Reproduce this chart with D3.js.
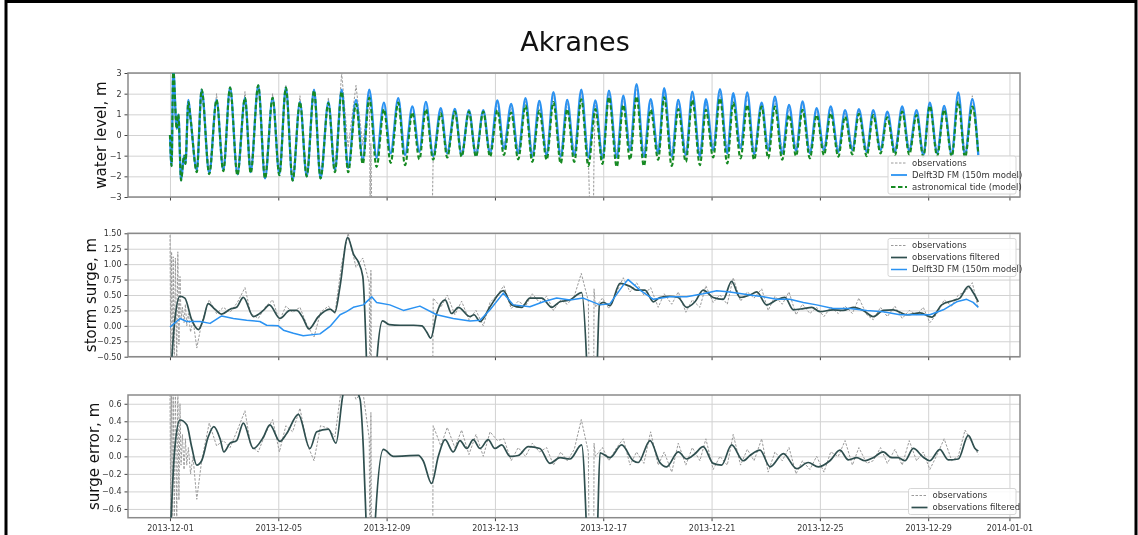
<!DOCTYPE html>
<html>
<head>
<meta charset="utf-8">
<script src="https://cdn.jsdelivr.net/npm/d3@7"></script>
<style>
  body { margin: 0; background: #fff; }
  svg { display: block; font-family: "DejaVu Sans", sans-serif; filter: blur(0.35px); }
</style>
</head>
<body>
<svg id="chart" width="1138" height="535"></svg>
<script>
// ---- data (days since 2013-12-01 00:00 UTC) ----

// tidal high/low waters, panel 1
const extremeDays = [
  0.00, 0.06, 0.12, 0.25, 0.31, 0.41, 0.52, 0.57, 0.68, 0.76,
  0.99, 1.17, 1.45, 1.72, 1.97, 2.22, 2.49, 2.77, 2.98, 3.26,
  3.51, 3.79, 4.04, 4.28, 4.53, 4.80, 5.05, 5.32, 5.56, 5.85,
  6.09, 6.34, 6.58, 6.87, 7.12, 7.36, 7.63, 7.90, 8.15, 8.43,
  8.68, 8.95, 9.21, 9.45, 9.72, 10.00, 10.24, 10.52, 10.77, 11.04,
  11.30, 11.57, 11.82, 12.09, 12.33, 12.60, 12.86, 13.13, 13.38, 13.64,
  13.91, 14.16, 14.43, 14.67, 14.93, 15.19, 15.45, 15.71, 15.97, 16.21,
  16.50, 16.74, 16.99, 17.23, 17.50, 17.75, 18.03, 18.25, 18.53, 18.77,
  19.05, 19.29, 19.57, 19.79, 20.06, 20.31, 20.58, 20.80, 21.07, 21.32,
  21.57, 21.85, 22.09, 22.34, 22.61, 22.86, 23.12, 23.36, 23.63, 23.88,
  24.15, 24.40, 24.68, 24.93, 25.20, 25.44, 25.73, 25.97, 26.24, 26.49,
  26.77, 27.04, 27.30, 27.57, 27.82, 28.06, 28.33, 28.59, 28.87, 29.11,
  29.36, 29.63, 29.85
];
const modelLevel = [
  0, -1.5, 3.2, 0.3, 1.0, -2.2, -1.0, -1.4, 1.7, 0.8,
  -1.7, 2.2, -1.85, 1.7, -1.7, 2.3, -1.9, 1.8, -1.8, 2.4,
  -2.1, 1.8, -1.9, 2.3, -2.2, 1.6, -2.0, 2.2, -2.1, 1.6,
  -1.7, 2.2, -1.6, 1.7, -1.2, 2.2, -1.1, 1.57, -0.89, 1.78,
  -0.97, 1.38, -0.81, 1.6, -1.02, 1.3, -0.89, 1.26, -0.97, 1.2,
  -0.97, 1.2, -0.89, 1.67, -0.65, 1.5, -0.89, 1.78, -1.05, 1.65,
  -0.97, 2.07, -1.05, 1.7, -0.97, 2.19, -1.08, 1.67, -1.13, 2.15,
  -1.08, 1.9, -0.73, 2.46, -1.05, 1.73, -0.89, 2.27, -1.05, 1.7,
  -0.97, 2.1, -1.05, 1.73, -0.73, 2.22, -0.89, 2.03, -0.65, 2.06,
  -0.92, 1.57, -0.73, 1.86, -0.89, 1.46, -0.76, 1.62, -0.89, 1.3,
  -0.73, 1.38, -0.81, 1.2, -0.73, 1.25, -0.81, 1.2, -0.73, 1.13,
  -0.81, 1.38, -0.76, 1.2, -0.97, 1.57, -0.89, 1.41, -0.97, 2.06,
  -0.97, 1.73, -0.97
];
const tideLevel = [
  0, -1.5, 3.2, 0.3, 1.0, -2.2, -1.0, -1.4, 1.6, 0.8,
  -1.8, 2.2, -1.9, 1.7, -1.75, 2.3, -1.95, 1.8, -1.85, 2.4,
  -2.1, 1.8, -1.95, 2.3, -2.2, 1.6, -2.0, 2.15, -2.1, 1.55,
  -1.8, 2.1, -1.8, 1.5, -1.4, 1.8, -1.55, 1.25, -1.35, 1.57,
  -1.46, 1.09, -1.18, 1.25, -1.2, 1.05, -1.09, 1.13, -1.05, 1.13,
  -1.05, 1.13, -1.05, 1.2, -0.97, 1.09, -1.18, 1.43, -1.3, 1.18,
  -1.2, 1.59, -1.38, 1.25, -1.3, 1.73, -1.5, 1.25, -1.4, 1.83,
  -1.54, 1.46, -1.2, 1.86, -1.5, 1.22, -1.2, 1.83, -1.5, 1.25,
  -1.3, 1.7, -1.46, 1.22, -1.09, 1.78, -1.38, 1.57, -1.13, 1.46,
  -1.2, 1.38, -1.13, 1.38, -1.2, 0.97, -1.02, 1.22, -1.13, 0.97,
  -0.97, 1.05, -1.05, 0.89, -0.94, 1.02, -1.02, 0.97, -0.89, 0.86,
  -0.97, 1.13, -0.94, 0.97, -1.05, 1.41, -1.02, 1.22, -1.05, 1.62,
  -1.09, 1.38, -0.9
];

// observations (tide gauge), shared time axis for all three panels; null = no data
const obsDays = [
  0.00, 0.03, 0.06, 0.09, 0.12, 0.16, 0.20, 0.25, 0.29, 0.33, 0.37, 0.41, 0.46, 0.52, 0.57, 0.62, 0.68, 0.76, 0.85,
  0.99, 1.17, 1.45, 1.72, 1.97, 2.22, 2.49, 2.77, 2.98, 3.26, 3.51, 3.79, 4.04, 4.28, 4.53, 4.80, 5.05, 5.32, 5.56, 5.85, 6.09, 6.34, 6.58, 6.87, 7.12, 7.36,
  7.39, 7.42, 7.45, 7.47, 9.69,
  9.72, 10.00, 10.24, 10.52, 10.77, 11.04, 11.30, 11.57, 11.82, 12.09, 12.33, 12.60, 12.86, 13.13, 13.38, 13.64, 13.91, 14.16, 14.43, 14.67, 14.93, 15.19, 15.45,
  15.50, 15.52, 15.64, 15.66,
  15.71, 15.97, 16.21, 16.50, 16.74, 16.99, 17.23, 17.50, 17.75, 18.03, 18.25, 18.53, 18.77, 19.05, 19.29, 19.57, 19.79, 20.06, 20.31, 20.58,
  20.80, 21.07, 21.32, 21.57, 21.85, 22.09, 22.34, 22.61, 22.86, 23.12, 23.36, 23.63, 23.88, 24.15, 24.40, 24.68, 24.93, 25.20, 25.44, 25.73,
  25.97, 26.24, 26.49, 26.77, 27.04, 27.30, 27.57, 27.82, 28.06, 28.33, 28.59, 28.87, 29.11, 29.36, 29.63, 29.85
];
const obsLevel = [
  0.0, -0.8, -1.5, 1.0, 3.2, 1.5, 0.6, 0.3, 1.0, 0.0, -1.5, -2.2, -1.6, -1.0, -1.4, 0.3, 1.7, 0.8, -0.6,
  -1.7, 2.2, -1.85, 2.0, -1.7, 2.35, -1.9, 2.1, -1.8, 2.45, -2.1, 2.0, -1.9, 2.4, -2.2, 1.9, -2.0, 2.2, -2.1, 1.8, -1.7, 3.0, -0.6, 2.4, -0.5, 2.2,
  -3.5, -0.4, -3.5, null, -3.5,
  -1.02, 1.3, -0.89, 1.26, -0.97, 1.2, -0.97, 1.2, -0.89, 1.67, -0.65, 1.5, -0.89, 1.78, -1.05, 1.65, -0.97, 2.07, -1.05, 1.7, -0.97, 2.19, -1.08,
  -3.5, null, -3.5, -0.9,
  1.67, -1.13, 2.15, -1.08, 1.9, -0.73, 2.46, -1.05, 1.73, -0.89, 2.27, -1.05, 1.7, -0.97, 2.1, -1.05, 1.73, -0.73, 2.22, -0.89,
  2.03, -0.65, 2.06, -0.92, 1.57, -0.73, 1.86, -0.89, 1.46, -0.76, 1.62, -0.89, 1.3, -0.73, 1.38, -0.81, 1.2, -0.73, 1.25, -0.81,
  1.2, -0.73, 1.13, -0.81, 1.38, -0.76, 1.2, -0.97, 1.57, -0.89, 1.41, -0.97, 2.06, -0.97, 1.9, -0.97
];
const obsSurge = [
  1.6, -0.8, 1.2, -0.8, 1.12, -0.7, 1.1, -0.6, 1.2, -0.3, 0.8, 0.1, 0.3, 0.05, 0.35, 0.0, 0.2, -0.1, 0.1,
  -0.36, 0.05, 0.42, 0.2, 0.3, 0.22, 0.38, 0.62, 0.2, 0.12, 0.3, 0.42, 0.08, 0.32, 0.22, 0.3, 0.02, -0.18, 0.22, 0.32, 0.2, 1.0, 1.5, 0.95, 1.1, 0.7,
  -2.0, 0.9, -2.0, null, -2.0,
  0.45, 0.3, 0.5, 0.18, 0.4, 0.1, 0.25, 0.0, 0.38, 0.5, 0.65, 0.28, 0.4, 0.32, 0.52, 0.38, 0.48, 0.25, 0.42, 0.35, 0.48, 0.85, 0.4,
  -2.0, null, -2.0, 0.6,
  0.3, 0.45, 0.28, 0.55, 0.78, 0.55, 0.7, 0.5, 0.62, 0.3, 0.52, 0.35, 0.55, 0.22, 0.42, 0.3, 0.65, 0.38, 0.5, 0.35,
  0.78, 0.4, 0.55, 0.45, 0.6, 0.25, 0.48, 0.35, 0.55, 0.18, 0.35, 0.2, 0.3, 0.15, 0.3, 0.2, 0.32, 0.2, 0.45, 0.18,
  0.1, 0.3, 0.15, 0.32, 0.12, 0.25, 0.18, 0.3, 0.05, 0.2, 0.42, 0.32, 0.5, 0.55, 0.7, 0.28
];
const obsError = [
  0.8, -0.8, 0.8, -0.8, 0.8, -0.8, 0.8, -0.8, 0.8, -0.5, 0.6, -0.1, 0.25, -0.15, 0.2, -0.1, 0.1, -0.2, 0.0,
  -0.49, -0.05, 0.38, 0.12, 0.18, 0.1, 0.3, 0.52, 0.12, 0.05, 0.25, 0.42, 0.05, 0.35, 0.28, 0.55, 0.15, -0.05, 0.35, 0.32, 0.22, 0.8, 0.9, 0.65, 0.75, 0.2,
  -2.0, 0.5, -2.0, null, -2.0,
  0.35, 0.12, 0.33, 0.1, 0.3, 0.02, 0.25, 0.0, 0.28, 0.18, 0.2, -0.05, 0.1, 0.0, 0.15, 0.05, 0.1, -0.1, 0.05, -0.05, 0.08, 0.42, 0.05,
  -2.0, null, -2.0, 0.15,
  0.0, 0.1, -0.05, 0.1, 0.2, -0.1, 0.05, -0.08, 0.28, -0.1, 0.05, -0.18, 0.15, -0.1, 0.1, -0.05, 0.2, -0.15, 0.0, -0.1,
  0.25, -0.1, 0.08, -0.05, 0.2, -0.18, 0.05, -0.05, 0.1, -0.2, -0.05, -0.15, 0.0, -0.18, 0.05, 0.0, 0.18, -0.1, 0.1, -0.08,
  -0.05, 0.1, -0.08, 0.08, -0.1, 0.18, -0.05, 0.05, -0.15, 0.02, 0.2, -0.05, 0.0, 0.3, 0.15, 0.02
];

// filtered observed surge, panel 2
const filtSurgeDays = [
  0.0, 0.18, 0.37, 0.55, 0.80, 1.05, 1.23, 1.41, 1.66, 1.91, 2.22, 2.46, 2.71, 3.08, 3.45, 3.67, 4.06, 4.43, 4.68, 4.92,
  5.13, 5.48, 5.91, 6.09, 6.28, 6.56, 6.79, 6.95, 7.12, 7.26, 7.35, 7.55, 7.65, 7.85, 8.1, 8.5, 9.0, 9.3, 9.48, 9.63,
  9.85, 10.16, 10.40, 10.65, 11.08, 11.23, 11.45, 11.82, 12.31, 12.62, 12.99, 13.29, 13.73, 14.10, 14.40, 14.77, 15.20, 15.39, 15.50, 15.70,
  15.78, 15.86, 16.0, 16.25, 16.62, 16.99, 17.23, 17.54, 17.85, 18.09, 18.46, 18.77, 19.08, 19.39, 19.69, 20.06, 20.43, 20.74, 21.05, 21.42,
  21.67, 22.03, 22.40, 22.71, 23.02, 23.39, 23.70, 24.0, 24.49, 24.86, 25.23, 25.60, 25.97, 26.34, 26.71, 27.20, 27.70, 28.13, 28.50, 28.93,
  29.17, 29.48, 29.66, 29.85
];
const filtSurge = [
  -1.0, 0.1, 0.48, 0.45, 0.1, -0.06, 0.1, 0.36, 0.27, 0.19, 0.27, 0.3, 0.46, 0.15, 0.25, 0.34, 0.12, 0.25, 0.25, 0.12,
  -0.05, 0.15, 0.27, 0.22, 0.64, 1.43, 1.15, 1.04, 0.8, -0.6, -2.0, -2.0, -0.5, 0.08, 0.02, 0.01, 0.01, 0.0, -0.1, -0.2,
  0.2, 0.42, 0.2, 0.3, 0.15, 0.18, 0.07, 0.31, 0.57, 0.34, 0.3, 0.45, 0.45, 0.3, 0.39, 0.42, 0.54, -0.6, -2.0, -2.0,
  -0.6, 0.34, 0.38, 0.33, 0.69, 0.64, 0.58, 0.58, 0.39, 0.46, 0.48, 0.46, 0.3, 0.39, 0.58, 0.46, 0.43, 0.72, 0.46, 0.5,
  0.55, 0.34, 0.42, 0.46, 0.26, 0.28, 0.3, 0.23, 0.26, 0.25, 0.3, 0.25, 0.15, 0.25, 0.26, 0.18, 0.21, 0.14, 0.34, 0.41,
  0.45, 0.64, 0.54, 0.39
];

// modelled surge (Delft3D FM), panel 2
const modelSurgeDays = [
  0.0, 0.37, 0.62, 1.11, 1.48, 1.91, 2.34, 2.83, 3.32, 3.57, 4.0, 4.19, 4.56, 4.92, 5.54, 5.91, 6.28, 6.52, 6.77, 7.14,
  7.45, 7.63, 8.12, 8.62, 9.23, 9.85, 10.46, 11.08, 11.45, 11.82, 12.31, 12.68, 13.29, 13.79, 14.28, 14.77, 15.26, 15.88, 16.25, 16.74,
  16.92, 17.36, 17.85, 18.46, 19.08, 19.69, 20.19, 20.68, 21.42, 21.91, 22.40, 22.89, 23.39, 23.88, 24.49, 25.11, 25.73, 26.34, 26.96, 27.57,
  28.06, 28.56, 29.05, 29.42, 29.66, 29.85
];
const modelSurge = [
  -0.02, 0.12, 0.07, 0.07, 0.04, 0.16, 0.12, 0.09, 0.07, 0.01, 0.0, -0.07, -0.12, -0.16, -0.13, -0.01, 0.18, 0.23, 0.3, 0.34,
  0.47, 0.38, 0.34, 0.25, 0.32, 0.18, 0.12, 0.08, 0.09, 0.26, 0.53, 0.34, 0.31, 0.39, 0.45, 0.42, 0.45, 0.34, 0.36, 0.66,
  0.75, 0.58, 0.43, 0.47, 0.47, 0.52, 0.57, 0.55, 0.5, 0.47, 0.43, 0.43, 0.38, 0.34, 0.28, 0.28, 0.25, 0.23, 0.18, 0.18,
  0.18, 0.26, 0.39, 0.43, 0.38, 0.3
];

// filtered surge error, panel 3
const filtErrDays = [
  0.0, 0.18, 0.37, 0.62, 0.80, 0.99, 1.17, 1.41, 1.62, 1.85, 1.99, 2.22, 2.46, 2.71, 3.08, 3.45, 3.69, 4.06, 4.31, 4.74,
  5.17, 5.42, 5.85, 6.13, 6.40, 6.65, 7.02, 7.14, 7.26, 7.40, 7.50, 7.57, 7.88, 8.25, 9.17, 9.35, 9.66, 9.91, 10.16, 10.46,
  10.71, 10.96, 11.2, 11.45, 11.75, 12.0, 12.25, 12.56, 12.86, 13.23, 13.66, 14.03, 14.40, 14.77, 15.20, 15.39, 15.50, 15.70, 15.80, 15.88,
  16.25, 16.68, 17.11, 17.29, 17.73, 18.09, 18.34, 18.77, 19.08, 19.39, 19.69, 20.06, 20.37, 20.74, 21.17, 21.42, 21.79, 22.16, 22.65, 23.14,
  23.57, 23.94, 24.37, 24.74, 25.05, 25.36, 25.66, 25.97, 26.34, 26.65, 26.89, 27.14, 27.45, 27.82, 28.06, 28.43, 28.74, 29.11, 29.48, 29.73,
  29.85
];
const filtErr = [
  -1.0, 0.1, 0.415, 0.36, 0.11, -0.1, -0.05, 0.22, 0.34, 0.2, 0.05, 0.15, 0.18, 0.38, 0.09, 0.22, 0.36, 0.17, 0.26, 0.48,
  0.09, 0.28, 0.31, 0.15, 0.72, 0.85, 0.65, 0.1, -0.9, -2.0, -2.0, -0.8, 0.08, 0.0, 0.01, -0.05, -0.31, 0.0, 0.19, 0.05,
  0.18, 0.09, 0.19, 0.09, 0.19, 0.09, 0.13, 0.0, 0.01, 0.11, 0.09, -0.08, -0.015, -0.03, 0.13, -0.9, -2.0, -2.0, -0.7, 0.04,
  -0.015, 0.13, -0.05, -0.07, 0.18, -0.07, -0.12, 0.05, -0.03, 0.03, 0.11, -0.08, -0.1, 0.13, -0.05, 0.01, 0.07, -0.12, 0.03, -0.14,
  -0.07, -0.12, -0.05, 0.07, -0.04, -0.015, -0.05, -0.015, 0.05, -0.015, -0.015, -0.05, 0.09, -0.01, -0.05, 0.08, -0.04, -0.03, 0.24, 0.09,
  0.06
];

// axes
const tickDates = ["2013-12-01", "2013-12-05", "2013-12-09", "2013-12-13", "2013-12-17",
                   "2013-12-21", "2013-12-25", "2013-12-29", "2014-01-01"];
const levelTicks = [-3, -2, -1, 0, 1, 2, 3];
const surgeTicks = [-0.5, -0.25, 0, 0.25, 0.5, 0.75, 1.0, 1.25, 1.5];
const errorTicks = [-0.6, -0.4, -0.2, 0, 0.2, 0.4, 0.6];


const svg = d3.select("#chart");
const W = 1138, H = 535;
const left = 128, right = 1020;

const t0 = Date.UTC(2013, 11, 1);
const toDate = d => new Date(t0 + d * 864e5);
const parse = d3.utcParse("%Y-%m-%d");
const tickVals = tickDates.map(parse);

const x = d3.scaleUtc()
    .domain([toDate(-1.55), toDate(31.39)])
    .range([left, right]);

// outer frame of the screenshot
svg.append("rect").attr("width", W).attr("height", H).attr("fill", "#fff");
svg.append("path")
    .attr("d", `M6,${H} V1.5 H1136 V${H}`)
    .attr("fill", "none").attr("stroke", "#000").attr("stroke-width", 3);

svg.append("text")
    .attr("x", 575).attr("y", 51)
    .attr("text-anchor", "middle")
    .attr("font-size", 27)
    .attr("fill", "#111")
    .text("Akranes");

// one panel: grid, frame, ticks, y label, clip
function makePanel(id, top, bottom, yDomain, yTicks, fmt, label, labelX, showDates) {
    const y = d3.scaleLinear().domain(yDomain).range([bottom, top]);
    const g = svg.append("g");

    svg.append("clipPath").attr("id", id)
        .append("rect")
        .attr("x", left).attr("y", top)
        .attr("width", right - left).attr("height", bottom - top);

    // grid
    g.append("g")
        .attr("transform", `translate(0,${bottom})`)
        .call(d3.axisBottom(x).tickValues(tickVals).tickSize(-(bottom - top)).tickFormat(""))
        .call(a => a.select(".domain").remove())
        .call(a => a.selectAll("line").attr("stroke", "#d2d2d2"));
    g.append("g")
        .attr("transform", `translate(${left},0)`)
        .call(d3.axisLeft(y).tickValues(yTicks).tickSize(-(right - left)).tickFormat(""))
        .call(a => a.select(".domain").remove())
        .call(a => a.selectAll("line").attr("stroke", "#d2d2d2"));

    // ticks + labels
    g.append("g")
        .attr("transform", `translate(${left},0)`)
        .call(d3.axisLeft(y).tickValues(yTicks).tickSize(3.5).tickPadding(3).tickFormat(fmt))
        .call(a => a.select(".domain").remove())
        .call(a => a.selectAll("line").attr("stroke", "#444"))
        .call(a => a.selectAll("text").attr("font-size", 8).attr("fill", "#333")
            .attr("font-family", "DejaVu Sans, sans-serif"));
    g.append("g")
        .attr("transform", `translate(0,${bottom})`)
        .call(d3.axisBottom(x).tickValues(tickVals).tickSize(3.5).tickPadding(4)
            .tickFormat(showDates ? d3.utcFormat("%Y-%m-%d") : ""))
        .call(a => a.select(".domain").remove())
        .call(a => a.selectAll("line").attr("stroke", "#444"))
        .call(a => a.selectAll("text").attr("font-size", 8).attr("fill", "#333")
            .attr("font-family", "DejaVu Sans, sans-serif"));

    g.append("rect")
        .attr("x", left).attr("y", top)
        .attr("width", right - left).attr("height", bottom - top)
        .attr("fill", "none").attr("stroke", "#8a8a8a").attr("stroke-width", 1.5);

    svg.append("text")
        .attr("transform", `translate(${labelX},${(top + bottom) / 2}) rotate(-90)`)
        .attr("text-anchor", "middle")
        .attr("dy", "0.35em")
        .attr("font-size", 15)
        .attr("fill", "#111")
        .text(label);

    const plot = svg.append("g").attr("clip-path", `url(#${id})`);
    return { y, plot };
}

function drawSeries(p, days, vals, style) {
    const line = d3.line()
        .defined((d, i) => vals[i] != null)
        .x(d => x(toDate(d)))
        .y((d, i) => p.y(vals[i]))
        .curve(style.curve || d3.curveMonotoneX);
    p.plot.append("path")
        .datum(days)
        .attr("d", line)
        .attr("fill", "none")
        .attr("stroke", style.color)
        .attr("stroke-width", style.width)
        .attr("stroke-dasharray", style.dash || null)
        .attr("stroke-linejoin", "round");
}

function drawLegend(x0, y0, w, entries) {
    const rowH = 12;
    const g = svg.append("g");
    g.append("rect")
        .attr("x", x0).attr("y", y0)
        .attr("width", w).attr("height", entries.length * rowH + 2)
        .attr("rx", 2)
        .attr("fill", "#fff").attr("fill-opacity", 0.85)
        .attr("stroke", "#d6d6d6");
    entries.forEach((e, i) => {
        const cy = y0 + 7 + i * rowH;
        g.append("line")
            .attr("x1", x0 + 3).attr("x2", x0 + 19)
            .attr("y1", cy).attr("y2", cy)
            .attr("stroke", e.color).attr("stroke-width", Math.min(e.width, 1.8))
            .attr("stroke-dasharray", e.dash || null);
        g.append("text")
            .attr("x", x0 + 24).attr("y", cy)
            .attr("dy", "0.35em")
            .attr("font-size", 8.5).attr("fill", "#333")
            .text(e.name);
    });
}

const OBS = { name: "observations", color: "#9a9a9a", width: 1, dash: "2.5,1.5", curve: d3.curveLinear };
const MODEL = { name: "Delft3D FM (150m model)", color: "#2a92f2", width: 2.3 };
const TIDE = { name: "astronomical tide (model)", color: "#168a22", width: 2.1, dash: "4.5,2.5" };
const FILT = { name: "observations filtered", color: "#2f4f4f", width: 1.7, curve: d3.curveMonotoneX };
const fmtInt = d3.format("d");
const fmt2 = d3.format(".2f");
const fmt1 = d3.format(".1f");

// panel 1: water level
const p1 = makePanel("clip1", 73, 197, [-3, 3], levelTicks, fmtInt, "water level, m", 101, false);
drawSeries(p1, obsDays, obsLevel, OBS);
drawSeries(p1, extremeDays, modelLevel, MODEL);
drawSeries(p1, extremeDays, tideLevel, TIDE);
drawLegend(888, 156, 128, [OBS, MODEL, TIDE]);

// panel 2: storm surge
const p2 = makePanel("clip2", 233.3, 356.7, [-0.5, 1.5], surgeTicks, fmt2, "storm surge, m", 91, false);
drawSeries(p2, obsDays, obsSurge, OBS);
drawSeries(p2, filtSurgeDays, filtSurge, FILT);
drawSeries(p2, modelSurgeDays, modelSurge, { color: MODEL.color, width: 1.5, curve: d3.curveLinear });
drawLegend(888, 238.5, 128, [OBS, FILT, { name: MODEL.name, color: MODEL.color, width: 1.5 }]);

// panel 3: surge error
const p3 = makePanel("clip3", 395, 517.7, [-0.7, 0.7], errorTicks, fmt1, "surge error, m", 94, true);
drawSeries(p3, obsDays, obsError, OBS);
drawSeries(p3, filtErrDays, filtErr, FILT);
drawLegend(908.5, 488.5, 107.5, [OBS, FILT]);
</script>
</body>
</html>
